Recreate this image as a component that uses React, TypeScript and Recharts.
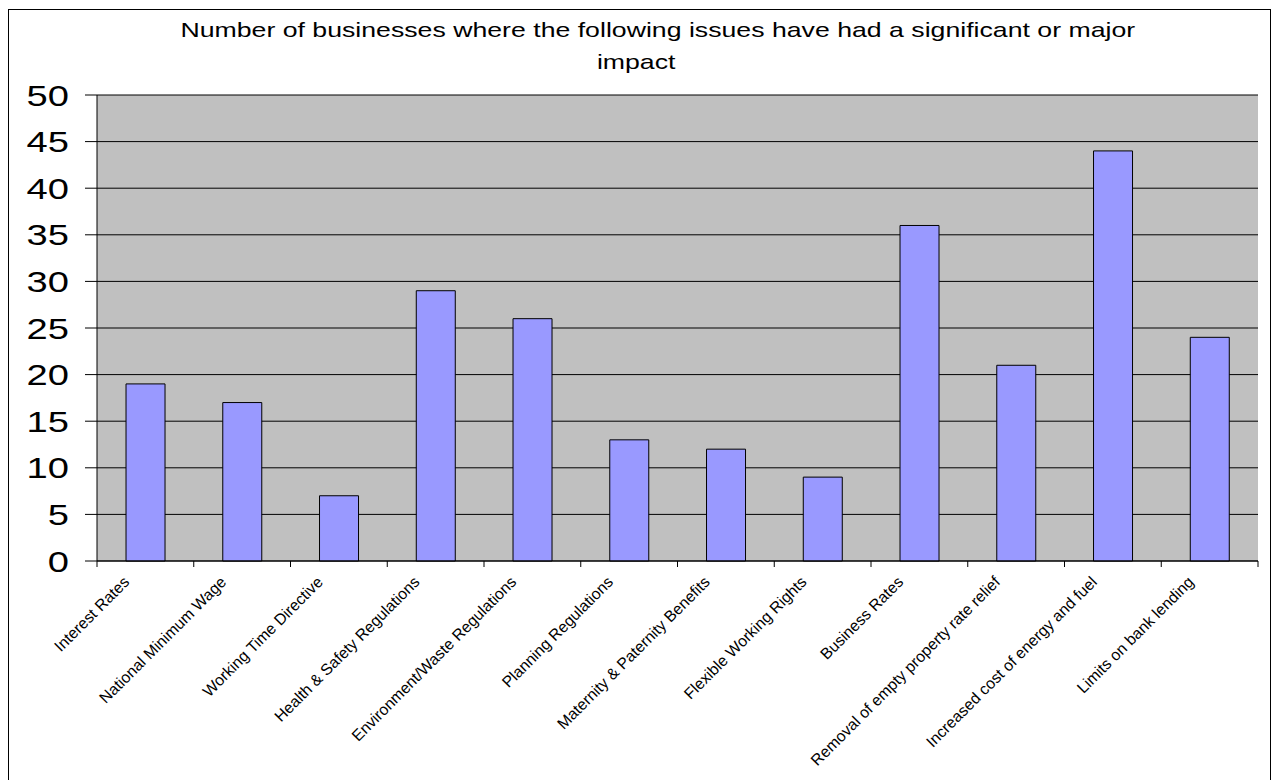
import { BarChart, Bar, XAxis, YAxis, CartesianGrid } from 'recharts';

const categories = [
  'Interest Rates',
  'National Minimum Wage',
  'Working Time Directive',
  'Health & Safety Regulations',
  'Environment/Waste Regulations',
  'Planning Regulations',
  'Maternity & Paternity Benefits',
  'Flexible Working Rights',
  'Business Rates',
  'Removal of empty property rate relief',
  'Increased cost of energy and fuel',
  'Limits on bank lending',
];

const counts = [19, 17, 7, 29, 26, 13, 12, 9, 36, 21, 44, 24];

const yTicks = [0, 5, 10, 15, 20, 25, 30, 35, 40, 45, 50];

const titleLines = [
  'Number of businesses where the following issues have had a significant or major',
  'impact',
];

const data = categories.map((name, i) => ({ name, value: counts[i] }));

const W = 1276;
const H = 780;
const margin = { top: 95, right: 18, bottom: 19, left: 37 };
const Y_AXIS_W = 60;
const PLOT_W = W - margin.left - Y_AXIS_W - margin.right;
const FONT = '"Liberation Sans", Arial, sans-serif';
const STRETCH = 1.27; // the original text is drawn wider than Arial

// label anchored under the category, tick marks at the category edges
function CategoryTick(props: any) {
  const { x, y, payload, index } = props;
  const half = PLOT_W / categories.length / 2;
  const tx = x - 15;
  const ty = y + 22;
  return (
    <g>
      <line x1={x - half} y1={y} x2={x - half} y2={y + 6} stroke="#000" />
      {index === categories.length - 1 && (
        <line x1={x + half} y1={y} x2={x + half} y2={y + 6} stroke="#000" />
      )}
      <text
        x={tx}
        y={ty}
        transform={`rotate(-45, ${tx}, ${ty})`}
        textAnchor="end"
        fontSize={15.8}
        fontFamily={FONT}
        fill="#000"
      >
        {payload.value}
      </text>
    </g>
  );
}

function ValueTick(props: any) {
  const { x, y, payload } = props;
  return (
    <g transform={`translate(${x}, ${y})`}>
      <text
        transform={`scale(${STRETCH}, 1)`}
        textAnchor="end"
        dy="0.355em"
        fontSize={30}
        fontFamily={FONT}
        fill="#000"
      >
        {payload.value}
      </text>
    </g>
  );
}

export default function App() {
  return (
    <div style={{ position: 'absolute', left: 0, top: 0, width: W, height: H, background: '#fff', overflow: 'hidden' }}>
      <div
        style={{
          position: 'absolute',
          left: 8,
          top: 9,
          width: 1263,
          height: 790,
          border: '1px solid #000',
          boxSizing: 'border-box',
        }}
      />
      <div
        style={{
          position: 'absolute',
          left: 0,
          top: 14,
          width: 1280,
          textAlign: 'center',
          fontFamily: FONT,
          fontSize: 21,
          lineHeight: '32px',
          color: '#000',
          transform: `scaleX(${STRETCH})`,
          transformOrigin: '640px 0',
        }}
      >
        <div style={{ position: 'relative', left: 14 }}>{titleLines[0]}</div>
        <div style={{ position: 'relative', left: -3 }}>{titleLines[1]}</div>
      </div>
      <div style={{ position: 'absolute', left: 0, top: 0 }}>
        <BarChart width={W} height={H} data={data} margin={margin} barCategoryGap="30%">
          <CartesianGrid yAxisId="left" vertical={false} stroke="#000" fill="#C0C0C0" fillOpacity={1} />
          <XAxis
            dataKey="name"
            interval={0}
            height={200}
            tickSize={0}
            tickMargin={0}
            tickLine={false}
            axisLine={{ stroke: '#000' }}
            tick={<CategoryTick />}
          />
          <YAxis
            yAxisId="left"
            domain={[0, 50]}
            ticks={yTicks}
            interval={0}
            width={Y_AXIS_W}
            tickSize={12}
            tickMargin={16}
            axisLine={{ stroke: '#000' }}
            tickLine={{ stroke: '#000' }}
            tick={<ValueTick />}
          />
          <YAxis
            yAxisId="right"
            orientation="right"
            width={0}
            tick={false}
            tickLine={false}
            axisLine={{ stroke: '#808080' }}
          />
          <Bar
            yAxisId="left"
            dataKey="value"
            fill="#9999FF"
            stroke="#000"
            strokeWidth={1}
            isAnimationActive={false}
          />
        </BarChart>
      </div>
    </div>
  );
}
